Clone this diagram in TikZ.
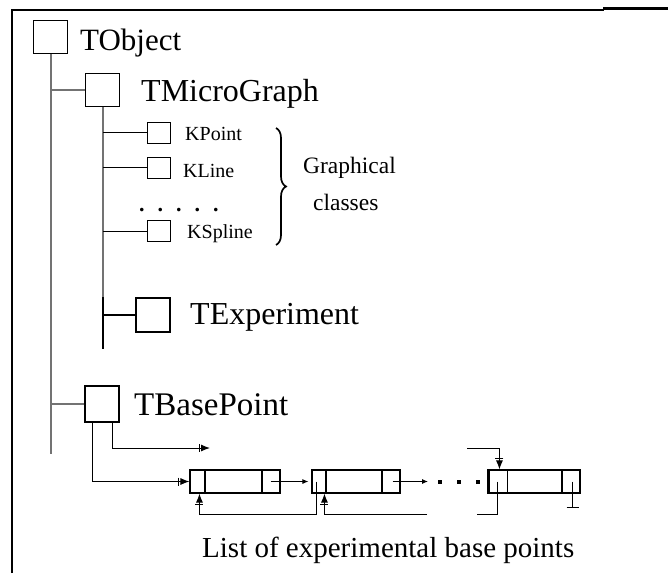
\documentclass[tikz,border=0pt]{standalone}
\usepackage{fontspec}
\setmainfont{Liberation Serif}
\usetikzlibrary{arrows.meta,calc,decorations.pathreplacing}
\tikzset{
  trunk/.style={draw=black!55,line width=2pt},
  twig/.style={draw=black,line width=1pt},
  cls/.style={draw,line width=1.3pt,inner sep=0pt,minimum width=34pt,minimum height=33pt},
  sub/.style={cls,line width=1pt,minimum width=23pt,minimum height=21pt},
  lab/.style={anchor=base west,inner sep=0pt},
  rec/.style={draw,line width=1.1pt,inner sep=0pt,minimum height=23pt},
  bar/.style={line width=2pt},
  ptr/.style={line width=1pt},
  fa/.style={-{Bar[width=8pt,sep=1pt]Latex[length=9pt,width=7pt]}},
  sa/.style={-{Latex[length=6pt,width=5pt]}}
}
\newcommand{\fsz}[1]{\fontsize{#1}{#1}\selectfont}
\newcommand{\cellbars}[3]{
  \draw[bar] ($(#1.north west)+(#2,0)$) -- ($(#1.south west)+(#2,0)$);
  \draw[bar] ($(#1.north west)+(#3,0)$) -- ($(#1.south west)+(#3,0)$);
}

\begin{document}
\begin{tikzpicture}[x=1pt,y=-1pt]
  \useasboundingbox (0,0) rectangle (668,573);

  % frame
  \draw[line width=2pt] (12,573) -- (12,9.5) -- (604,9.5);
  \draw[line width=3pt] (603,8.5) -- (668,8.5);

  % ================= class tree =================
  \node[cls] (tobj) at (50.5,37) {};
  \node[lab,font=\fsz{31}] (tobjL) at (80,50) {TObject};
  \path (tobj.south) ++(0,400) coordinate (trunkEnd);
  \draw[trunk] (tobj.south) -- (trunkEnd);

  \node[cls] (tmg) at (102.5,90) {};
  \node[lab,font=\fsz{32}] (tmgL) at (141,101) {TMicroGraph};
  \draw[trunk] (tmg.west) -- (tmg.west -| tobj.south);
  \path (tmg.south) ++(0,242) coordinate (tmgEnd);
  \draw[trunk] (tmg.south) -- (tmgEnd);

  % graphical classes
  \node[sub] (kpt) at (158.5,132.5) {};
  \node[lab,font=\fsz{20}] (kptL) at (185,140) {KPoint};
  \node[sub] (kln) at (158.5,167.5) {};
  \node[lab,font=\fsz{20}] (klnL) at (183,177) {KLine};
  \node[lab,font=\fsz{22}\bfseries] (dots) at (139,211) {.\hspace{13pt}.\hspace{13pt}.\hspace{13pt}.\hspace{13pt}.};
  \node[sub] (ksp) at (158.5,231) {};
  \node[lab,font=\fsz{20}] (kspL) at (187,238) {KSpline};
  \draw[twig] (kpt.west) -- (kpt.west -| tmg.south);
  \draw[twig] (kln.west) -- (kln.west -| tmg.south);
  \draw[twig] (ksp.west) -- (ksp.west -| tmg.south);

  \coordinate (brTop) at (276,128);
  \coordinate (brBot) at (276,245);
  \draw[line width=1.7pt,decorate,decoration={brace,amplitude=10pt}] (brTop) -- (brBot);
  \node[lab,font=\fsz{23.5}] (grL) at (303,173) {Graphical};
  \node[lab,font=\fsz{23.5}] (clL) at (313,210) {classes};

  \node[cls,minimum height=34pt] (texp) at (153,315) {};
  \node[lab,font=\fsz{32}] (texpL) at (190,324) {TExperiment};
  \draw[twig,line width=1.3pt] (texp.west) -- (texp.west -| tmg.south);
  \draw[line width=2pt] (tmg.south |- texp.north) -- (tmgEnd);

  \node[cls,minimum height=36pt] (tbp) at (102,404) {};
  \node[lab,font=\fsz{33}] (tbpL) at (134,415) {TBasePoint};
  \draw[trunk] (tbp.west) -- (tbp.west -| tobj.south);

  % ================= list of base points =================
  \node[rec,minimum width=90pt] (rec1) at (235,481.5) {};
  \node[rec,minimum width=88pt] (rec2) at (356,481.5) {};
  \node[rec,minimum width=91pt] (rec3) at (534.5,481.5) {};
  \cellbars{rec1}{16}{73}
  \cellbars{rec2}{15}{71}
  \draw[bar] (rec3.north west) -- (rec3.south west);
  \draw[ptr] ($(rec3.north west)+(19,0)$) -- ($(rec3.south west)+(19,0)$);
  \draw[bar] ($(rec3.north west)+(74,0)$) -- ($(rec3.south west)+(74,0)$);

  \coordinate (freeEnd) at (210,448);
  \draw[ptr,fa] ($(tbp.south)+(10,0)$) |- (freeEnd);
  \draw[ptr,fa] ($(tbp.south)+(-10,0)$) |- (rec1.west);

  \draw[ptr,sa,shorten >=3pt] ($(rec1.east)+(-10,0)$) -- (rec2.west);
  \coordinate (gapL) at (428,481.5);
  \draw[ptr,sa] ($(rec2.east)+(-8,0)$) -- (gapL);
  \foreach \x in {440,459,478} \fill (\x-2,479.5) rectangle (\x+2,483.5);

  \draw[ptr,fa] ($(rec2.west)+(5,0)$) -- ++(0,33) -| ($(rec1.south west)+(10,0)$);
  \coordinate (tail2) at (427,514);
  \draw[ptr,fa] (tail2) -| ($(rec2.south west)+(13,0)$);
  \draw[ptr] ($(rec3.west)+(9,0)$) -- ++(0,33) -- ++(-20,0);
  \coordinate (head3) at (467,448);
  \draw[ptr,fa] (head3) -| ($(rec3.north west)+(11,0)$);
  \draw[ptr] ($(rec3.east)+(-8,0)$) -- ++(0,26) coordinate (gnd);
  \draw[ptr] (gnd) ++(-6,0) -- ++(12,0);

  \node[lab,font=\fsz{29}] (cap) at (202,557) {List of experimental base points};
\end{tikzpicture}
\end{document}
